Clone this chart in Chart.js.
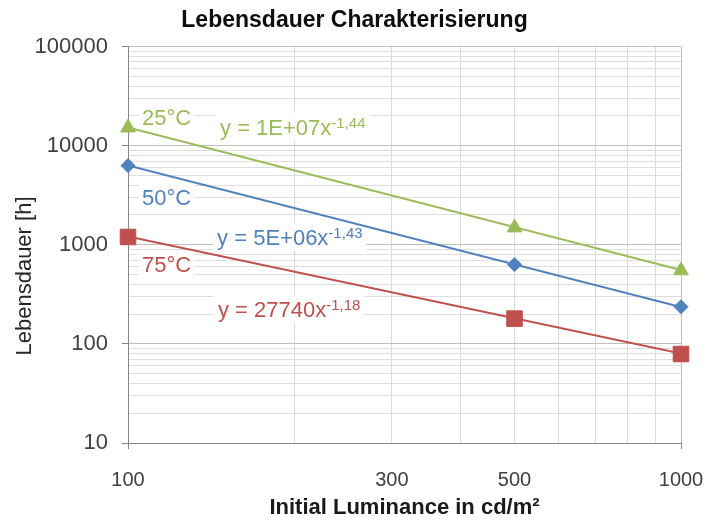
<!DOCTYPE html>
<html>
<head>
<meta charset="utf-8">
<title>Lebensdauer Charakterisierung</title>
<script src="https://cdn.jsdelivr.net/npm/chart.js@4.4.1/dist/chart.umd.min.js"></script>
<style>
  html, body { margin: 0; padding: 0; background: #fff; }
  #wrap { width: 709px; height: 524px; }
</style>
</head>
<body>
<div id="wrap"><canvas id="lifeChart" width="709" height="524"></canvas></div>
<script>
// Lifetime vs. initial luminance, log-log, three temperatures with power fits.

const luminance = [100, 500, 1000];
const life25 = [15200, 1490, 550];
const life50 = [6300, 630, 237];
const life75 = [1200, 180, 79];

// fitted trendlines, read at the ends of the x range
const fitX = [100, 1000];
const fit25 = [15300, 555];
const fit50 = [6300, 236];
const fit75 = [1210, 80];

const seriesNames = ["25°C", "50°C", "75°C"];
const fitCoef = ["1E+07", "5E+06", "27740"];
const fitExp = ["-1,44", "-1,43", "-1,18"];

const xTickLabels = [100, 300, 500, 1000];
const yTickLabels = [10, 100, 1000, 10000, 100000];

const GREEN = "#9bbb59";
const BLUE = "#4f81bd";
const RED = "#c0504d";
const FONT = '"Liberation Sans", Arial, Helvetica, sans-serif';

// grid lines at 1..9 of every decade
function decadeSteps(from, to) {
  const out = [];
  for (let d = from; d < to; d *= 10) {
    for (let k = 1; k < 10; k++) out.push(k * d);
  }
  out.push(to);
  return out;
}
const xGrid = decadeSteps(100, 1000);
const yGrid = decadeSteps(10, 100000);

function pts(xs, ys) {
  return xs.map((x, i) => ({ x, y: ys[i] }));
}

// label anchors in data space (left edge, vertical middle)
const nameSpots = [
  { x: 106, y: 19600 },
  { x: 106, y: 3055 },
  { x: 106, y: 643 }
];
const eqSpots = [
  { x: 146.7, y: 15560 },
  { x: 144.9, y: 1205 },
  { x: 145.4, y: 226 }
];

const labelPlugin = {
  id: "fitLabels",
  beforeDatasetsDraw(chart) {
    const { ctx, scales } = chart;
    const colors = [GREEN, BLUE, RED];
    ctx.save();
    ctx.textAlign = "left";
    ctx.textBaseline = "alphabetic";

    seriesNames.forEach((name, i) => {
      const px = scales.x.getPixelForValue(nameSpots[i].x);
      const py = scales.y.getPixelForValue(nameSpots[i].y);
      ctx.font = "22px " + FONT;
      const w = ctx.measureText(name).width;
      ctx.fillStyle = "#fff";
      ctx.fillRect(px - 3, py - 12, w + 6, 24);
      ctx.fillStyle = colors[i];
      ctx.fillText(name, px, py + 8);

      const ex = scales.x.getPixelForValue(eqSpots[i].x);
      const ey = scales.y.getPixelForValue(eqSpots[i].y);
      const main = "y = " + fitCoef[i] + "x";
      const mw = ctx.measureText(main).width;
      ctx.font = "15px " + FONT;
      const sw = ctx.measureText(fitExp[i]).width;
      ctx.fillStyle = "#fff";
      ctx.fillRect(ex - 4, ey - 14, mw + sw + 8, 28);
      ctx.fillStyle = colors[i];
      ctx.font = "22px " + FONT;
      ctx.fillText(main, ex, ey + 8);
      ctx.font = "15px " + FONT;
      ctx.fillText(fitExp[i], ex + mw, ey + 1);
    });

    // y axis title, drawn by hand to sit where the original has it
    ctx.translate(25, 276);
    ctx.rotate(-Math.PI / 2);
    ctx.textAlign = "center";
    ctx.textBaseline = "middle";
    ctx.font = "22px " + FONT;
    ctx.fillStyle = "#262626";
    ctx.fillText("Lebensdauer [h]", 0, 0);
    ctx.restore();
  }
};

function markerSet(data, color, style, radius) {
  return {
    data,
    showLine: false,
    clip: false,
    pointStyle: style,
    pointRadius: radius,
    pointBackgroundColor: color,
    pointBorderColor: color,
    pointBorderWidth: 1
  };
}

function fitSet(data, color) {
  return {
    data,
    showLine: true,
    borderColor: color,
    borderWidth: 2,
    pointRadius: 0
  };
}

new Chart(document.getElementById("lifeChart"), {
  type: "scatter",
  data: {
    datasets: [
      markerSet(pts(luminance, life25), GREEN, "triangle", 8.5),
      markerSet(pts(luminance, life50), BLUE, "rectRot", 7),
      markerSet(pts(luminance, life75), RED, "rect", 11),
      fitSet(pts(fitX, fit25), GREEN),
      fitSet(pts(fitX, fit50), BLUE),
      fitSet(pts(fitX, fit75), RED)
    ]
  },
  options: {
    responsive: false,
    animation: false,
    layout: { padding: 0 },
    plugins: {
      legend: { display: false },
      tooltip: { enabled: false },
      title: {
        display: true,
        text: "Lebensdauer Charakterisierung",
        color: "#0d0d0d",
        font: { family: FONT, size: 23, weight: "bold" },
        padding: { top: 7, bottom: 12 }
      }
    },
    scales: {
      x: {
        type: "logarithmic",
        min: 100,
        max: 1000,
        afterBuildTicks: s => { s.ticks = xGrid.map(v => ({ value: v })); },
        // keep the plot edge at the same place as the original
        afterFit: s => { s.height = 81; s.paddingLeft = 0; s.paddingRight = 28; },
        ticks: {
          autoSkip: false,
          maxRotation: 0,
          minRotation: 0,
          padding: 19,
          color: "#404040",
          font: { family: FONT, size: 20 },
          callback: v => (xTickLabels.includes(v) ? String(v) : "")
        },
        grid: {
          color: c => (c.tick && (c.tick.value === 100 || c.tick.value === 1000) ? "#bfbfbf" : "#d9d9d9"),
          tickLength: 6,
          tickColor: c => (c.tick && (c.tick.value === 100 || c.tick.value === 1000) ? "#868686" : "rgba(0,0,0,0)")
        },
        border: { color: "#868686", width: 1 },
        title: {
          display: true,
          text: "Initial Luminance in cd/m²",
          color: "#1a1a1a",
          font: { family: FONT, size: 22, weight: "bold" },
          padding: { top: 0, bottom: 3 }
        }
      },
      y: {
        type: "logarithmic",
        min: 10,
        max: 100000,
        afterBuildTicks: s => { s.ticks = yGrid.map(v => ({ value: v })); },
        afterFit: s => { s.width = 128; },
        ticks: {
          autoSkip: false,
          padding: 14,
          color: "#404040",
          font: { family: FONT, size: 22 },
          callback: v => (yTickLabels.includes(v) ? String(v) : "")
        },
        grid: {
          color: c => (c.tick && yTickLabels.includes(c.tick.value) ? "#bfbfbf" : "#dedede"),
          tickLength: 6,
          tickColor: c => (c.tick && yTickLabels.includes(c.tick.value) ? "#868686" : "rgba(0,0,0,0)")
        },
        border: { color: "#868686", width: 1 }
      }
    }
  },
  plugins: [labelPlugin]
});
</script>
</body>
</html>
